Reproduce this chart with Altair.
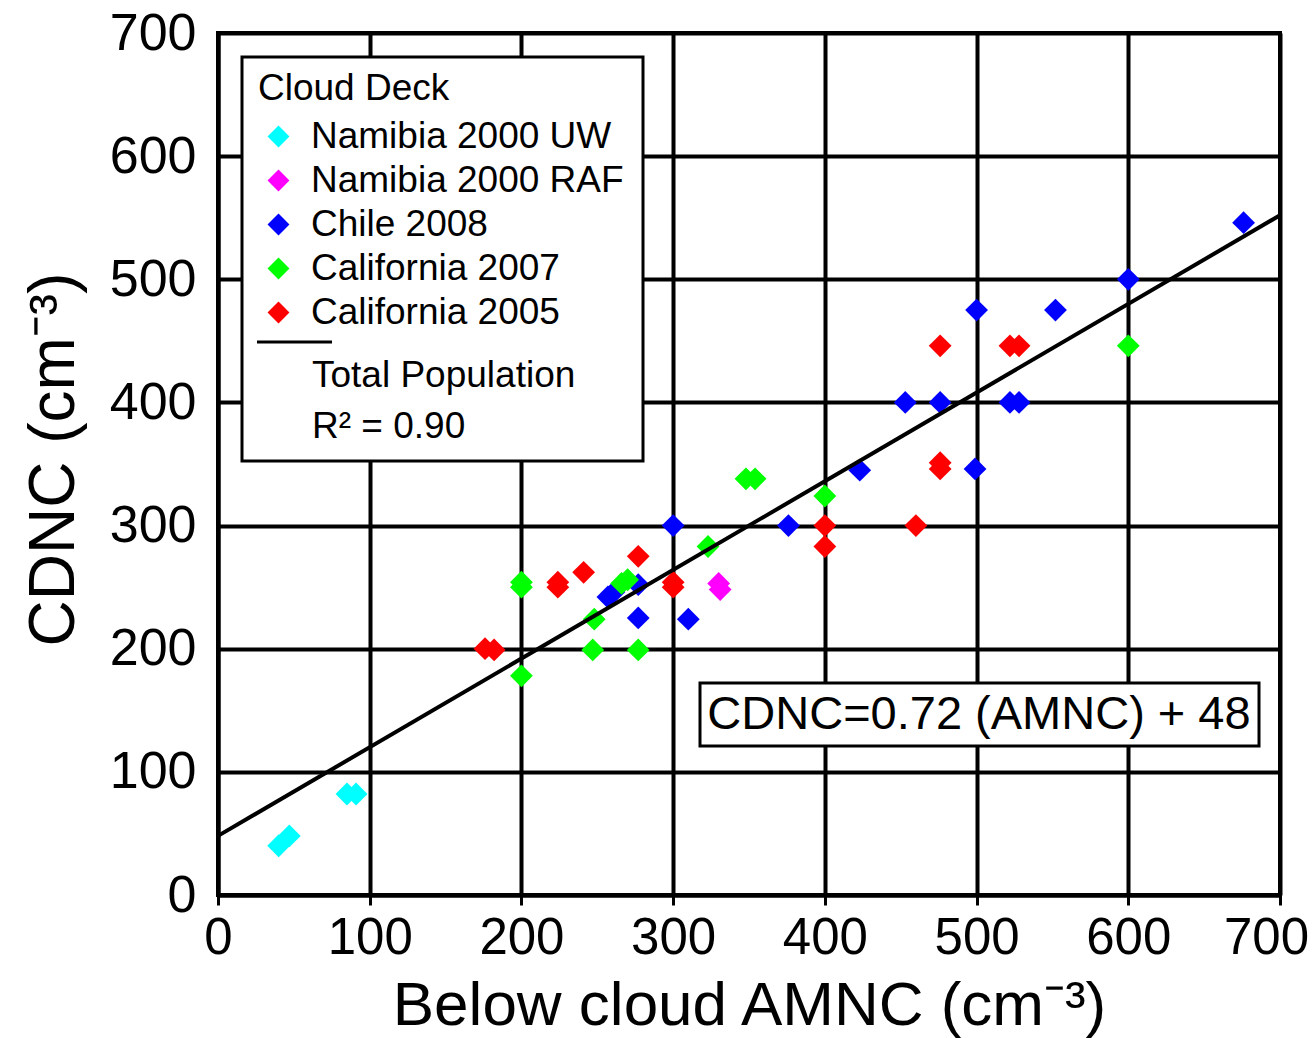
import altair as alt
import pandas as pd

FONT = "Liberation Sans"

series_names = ["Namibia 2000 UW", "Namibia 2000 RAF", "Chile 2008",
                "California 2007", "California 2005"]
series_colors = ["#00FFFF", "#FF00FF", "#0000FF", "#00FF00", "#FF0000"]

namibia_uw_x = [40, 47, 85, 91]
namibia_uw_y = [40, 48, 82, 82]

namibia_raf_x = [330, 331]
namibia_raf_y = [253, 248]

chile_x = [257, 261, 277, 277, 300, 310, 376, 423, 453, 476, 499, 500, 522, 528, 552, 600, 676]
chile_y = [242, 246, 252, 225, 300, 224, 300, 345, 400, 400, 346, 475, 400, 400, 475, 500, 546]

cal2007_x = [200, 200, 200, 247, 248, 266, 270, 277, 323, 348, 354, 400, 600]
cal2007_y = [254, 250, 178, 199, 224, 253, 256, 199, 283, 338, 338, 324, 446]

cal2005_x = [176, 182, 224, 224, 241, 277, 300, 300, 400, 400, 460, 476, 476, 476, 522, 528]
cal2005_y = [200, 199, 254, 250, 262, 275, 254, 250, 300, 283, 300, 346, 351, 446, 446, 446]

fit_slope = 0.72
fit_intercept = 48
fit_x = [0, 700]

axis_ticks = [0, 100, 200, 300, 400, 500, 600, 700]

rows = []
for name, xs, ys in [
    (series_names[0], namibia_uw_x, namibia_uw_y),
    (series_names[1], namibia_raf_x, namibia_raf_y),
    (series_names[2], chile_x, chile_y),
    (series_names[3], cal2007_x, cal2007_y),
    (series_names[4], cal2005_x, cal2005_y),
]:
    for xv, yv in zip(xs, ys):
        rows.append({"deck": name, "amnc": xv, "cdnc": yv})
pts = pd.DataFrame(rows)

fit = pd.DataFrame({"amnc": fit_x, "cdnc": [fit_slope * v + fit_intercept for v in fit_x]})

xscale = alt.Scale(domain=[0, 700], nice=False, zero=False)
yscale = alt.Scale(domain=[0, 700], nice=False, zero=False)

xaxis = alt.Axis(values=axis_ticks, title="Below cloud AMNC (cm⁻³)", format="d",
                 grid=True, gridColor="black", gridWidth=4, gridOpacity=1,
                 domainColor="black", domainWidth=4,
                 ticks=True, tickSize=10, tickWidth=3, tickColor="black",
                 labelFont=FONT, labelFontSize=51, labelColor="black", labelPadding=8,
                 labelFlush=False, labelOverlap=False,
                 labelOffset={"condition": {"test": "datum.value == 700", "value": -14}, "value": 0},
                 titleFont=FONT, titleFontSize=62, titleFontWeight="normal", titleColor="black",
                 titleBaseline="alphabetic", titleY=129)
yaxis = alt.Axis(values=axis_ticks, title="CDNC (cm⁻³)", format="d",
                 grid=True, gridColor="black", gridWidth=4, gridOpacity=1,
                 domainColor="black", domainWidth=4,
                 ticks=False, labelPadding=22,
                 labelFont=FONT, labelFontSize=52, labelColor="black",
                 labelFlush=False, labelOverlap=False,
                 titleFont=FONT, titleFontSize=64, titleFontWeight="normal", titleColor="black",
                 titleBaseline="alphabetic", titleX=-145, titleY=426, titleAlign="center")

legend = alt.Legend(orient="none", legendX=40, legendY=38, title="Cloud Deck",
                    titleFont=FONT, titleFontSize=37, titleFontWeight="normal", titleColor="black",
                    titlePadding=10, titleLimit=0,
                    labelFont=FONT, labelFontSize=37, labelColor="black", labelLimit=0,
                    labelOffset=14, symbolOffset=2,
                    symbolType="diamond", symbolSize=480, symbolStrokeWidth=0,
                    rowPadding=6, padding=0)

points = alt.Chart(pts).mark_point(shape="diamond", filled=True, size=520, opacity=1).encode(
    x=alt.X("amnc:Q", scale=xscale, axis=xaxis),
    y=alt.Y("cdnc:Q", scale=yscale, axis=yaxis),
    color=alt.Color("deck:N", scale=alt.Scale(domain=series_names, range=series_colors),
                    sort=series_names, legend=legend),
)

line = alt.Chart(fit).mark_line(color="black", strokeWidth=4).encode(
    x=alt.X("amnc:Q", scale=xscale),
    y=alt.Y("cdnc:Q", scale=yscale),
)

one = pd.DataFrame({"a": [0]})

legend_box = alt.Chart(one).mark_rect(fill="white", stroke="black", strokeWidth=3).encode(
    x=alt.value(24), x2=alt.value(425), y=alt.value(24), y2=alt.value(428))

legend_rule = alt.Chart(one).mark_rule(color="black", strokeWidth=3).encode(
    x=alt.value(39), x2=alt.value(114), y=alt.value(309))

legend_txt1 = alt.Chart(one).mark_text(text="Total Population", font=FONT, fontSize=37,
                                       align="left", baseline="alphabetic", color="black").encode(
    x=alt.value(94), y=alt.value(354))
legend_txt2 = alt.Chart(one).mark_text(text="R² = 0.90", font=FONT, fontSize=37,
                                       align="left", baseline="alphabetic", color="black").encode(
    x=alt.value(94), y=alt.value(405))

eq_box = alt.Chart(one).mark_rect(fill="white", stroke="black", strokeWidth=3).encode(
    x=alt.value(482), x2=alt.value(1041), y=alt.value(650), y2=alt.value(713))
eq_txt = alt.Chart(one).mark_text(text="CDNC=0.72 (AMNC) + 48", font=FONT, fontSize=47,
                                  align="center", baseline="middle", color="black").encode(
    x=alt.value(761), y=alt.value(682))

chart = alt.layer(points, line, legend_box, legend_rule, legend_txt1, legend_txt2,
                  eq_box, eq_txt).properties(
    width=1062, height=862,
    autosize=alt.AutoSizeParams(type="none"),
    padding={"left": 218, "top": 33, "right": 34, "bottom": 143},
    background="white",
).configure_view(stroke="black", strokeWidth=4)

chart.save("out.html", embed_options={"renderer": "svg", "actions": False})
